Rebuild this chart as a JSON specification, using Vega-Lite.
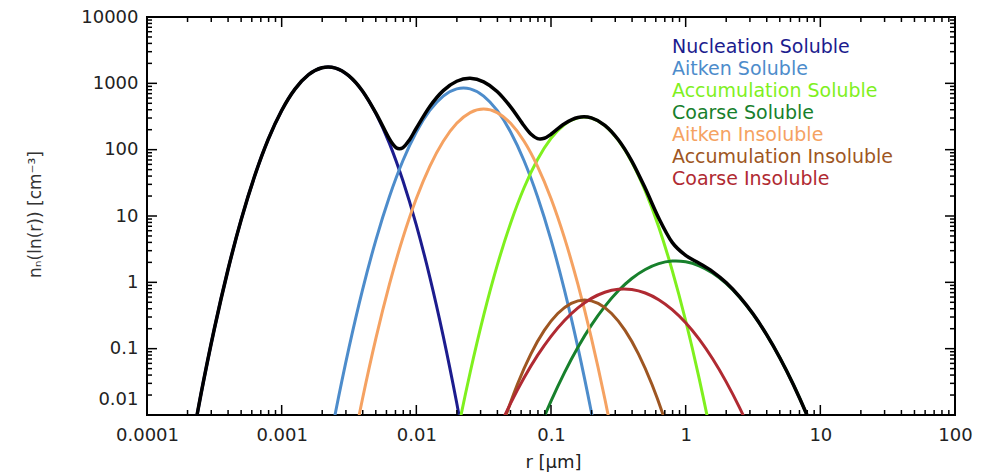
{
  "$schema": "https://vega.github.io/schema/vega-lite/v6.json",
  "width": 808,
  "height": 398,
  "autosize": {"type": "none"},
  "padding": {"left": 147, "top": 17, "right": 37, "bottom": 59},
  "background": "white",
  "config": {"view": {"stroke": "#000", "strokeWidth": 2}, "font": "DejaVu Sans"},
  "datasets": {
    "modes": [
      {"m":"Nucleation Soluble","r":0.0001995,"n":0.00161},{"m":"Nucleation Soluble","r":0.0002512,"n":0.0203},{"m":"Nucleation Soluble","r":0.0003162,"n":0.199},{"m":"Nucleation Soluble","r":0.0003981,"n":1.51},{"m":"Nucleation Soluble","r":0.0005012,"n":8.892},{"m":"Nucleation Soluble","r":0.000631,"n":40.46},{"m":"Nucleation Soluble","r":0.0007943,"n":142.9},{"m":"Nucleation Soluble","r":0.001,"n":389.9},{"m":"Nucleation Soluble","r":0.001259,"n":826},{"m":"Nucleation Soluble","r":0.001585,"n":1355},{"m":"Nucleation Soluble","r":0.001995,"n":1722},{"m":"Nucleation Soluble","r":0.002512,"n":1698},{"m":"Nucleation Soluble","r":0.003162,"n":1294},{"m":"Nucleation Soluble","r":0.003981,"n":765.6},{"m":"Nucleation Soluble","r":0.005012,"n":350.8},{"m":"Nucleation Soluble","r":0.00631,"n":124.5},{"m":"Nucleation Soluble","r":0.007943,"n":34.2},{"m":"Nucleation Soluble","r":0.01,"n":7.278},{"m":"Nucleation Soluble","r":0.01259,"n":1.202},{"m":"Nucleation Soluble","r":0.01585,"n":0.1535},{"m":"Nucleation Soluble","r":0.01995,"n":0.0152},{"m":"Nucleation Soluble","r":0.02512,"n":0.00117},
      {"m":"Aitken Soluble","r":0.001995,"n":0.000908},{"m":"Aitken Soluble","r":0.002512,"n":0.01099},{"m":"Aitken Soluble","r":0.003162,"n":0.1037},{"m":"Aitken Soluble","r":0.003981,"n":0.7638},{"m":"Aitken Soluble","r":0.005012,"n":4.375},{"m":"Aitken Soluble","r":0.00631,"n":19.54},{"m":"Aitken Soluble","r":0.007943,"n":68.08},{"m":"Aitken Soluble","r":0.01,"n":184.5},{"m":"Aitken Soluble","r":0.01259,"n":389.9},{"m":"Aitken Soluble","r":0.01585,"n":642.7},{"m":"Aitken Soluble","r":0.01995,"n":826},{"m":"Aitken Soluble","r":0.02512,"n":826},{"m":"Aitken Soluble","r":0.03162,"n":642.7},{"m":"Aitken Soluble","r":0.03981,"n":389.9},{"m":"Aitken Soluble","r":0.05012,"n":184.5},{"m":"Aitken Soluble","r":0.0631,"n":68.08},{"m":"Aitken Soluble","r":0.07943,"n":19.54},{"m":"Aitken Soluble","r":0.1,"n":4.375},{"m":"Aitken Soluble","r":0.1259,"n":0.7638},{"m":"Aitken Soluble","r":0.1585,"n":0.1037},{"m":"Aitken Soluble","r":0.1995,"n":0.01099},{"m":"Aitken Soluble","r":0.2512,"n":0.000908},
      {"m":"Accumulation Soluble","r":0.01585,"n":0.000405},{"m":"Accumulation Soluble","r":0.01995,"n":0.004786},{"m":"Accumulation Soluble","r":0.02512,"n":0.04406},{"m":"Accumulation Soluble","r":0.03162,"n":0.317},{"m":"Accumulation Soluble","r":0.03981,"n":1.782},{"m":"Accumulation Soluble","r":0.05012,"n":7.798},{"m":"Accumulation Soluble","r":0.0631,"n":26.67},{"m":"Accumulation Soluble","r":0.07943,"n":70.96},{"m":"Accumulation Soluble","r":0.1,"n":147.6},{"m":"Accumulation Soluble","r":0.1259,"n":239.9},{"m":"Accumulation Soluble","r":0.1585,"n":303.4},{"m":"Accumulation Soluble","r":0.1995,"n":299.9},{"m":"Accumulation Soluble","r":0.2512,"n":231.2},{"m":"Accumulation Soluble","r":0.3162,"n":139},{"m":"Accumulation Soluble","r":0.3981,"n":65.16},{"m":"Accumulation Soluble","r":0.5012,"n":23.82},{"m":"Accumulation Soluble","r":0.631,"n":6.808},{"m":"Accumulation Soluble","r":0.7943,"n":1.517},{"m":"Accumulation Soluble","r":1,"n":0.2636},{"m":"Accumulation Soluble","r":1.259,"n":0.03573},{"m":"Accumulation Soluble","r":1.585,"n":0.003776},{"m":"Accumulation Soluble","r":1.995,"n":0.000312},
      {"m":"Coarse Soluble","r":0.07943,"n":0.00537},{"m":"Coarse Soluble","r":0.1,"n":0.01618},{"m":"Coarse Soluble","r":0.1259,"n":0.04365},{"m":"Coarse Soluble","r":0.1585,"n":0.1052},{"m":"Coarse Soluble","r":0.1995,"n":0.2265},{"m":"Coarse Soluble","r":0.2512,"n":0.4345},{"m":"Coarse Soluble","r":0.3162,"n":0.7464},{"m":"Coarse Soluble","r":0.3981,"n":1.143},{"m":"Coarse Soluble","r":0.5012,"n":1.563},{"m":"Coarse Soluble","r":0.631,"n":1.914},{"m":"Coarse Soluble","r":0.7943,"n":2.089},{"m":"Coarse Soluble","r":1,"n":2.037},{"m":"Coarse Soluble","r":1.259,"n":1.774},{"m":"Coarse Soluble","r":1.585,"n":1.38},{"m":"Coarse Soluble","r":1.995,"n":0.9616},{"m":"Coarse Soluble","r":2.512,"n":0.5957},{"m":"Coarse Soluble","r":3.162,"n":0.3304},{"m":"Coarse Soluble","r":3.981,"n":0.1637},{"m":"Coarse Soluble","r":5.012,"n":0.07244},{"m":"Coarse Soluble","r":6.31,"n":0.02864},{"m":"Coarse Soluble","r":7.943,"n":0.01009},{"m":"Coarse Soluble","r":10,"n":0.003184},
      {"m":"Aitken Insoluble","r":0.003162,"n":0.001644},{"m":"Aitken Insoluble","r":0.003981,"n":0.01742},{"m":"Aitken Insoluble","r":0.005012,"n":0.1442},{"m":"Aitken Insoluble","r":0.00631,"n":0.929},{"m":"Aitken Insoluble","r":0.007943,"n":4.677},{"m":"Aitken Insoluble","r":0.01,"n":18.37},{"m":"Aitken Insoluble","r":0.01259,"n":56.1},{"m":"Aitken Insoluble","r":0.01585,"n":134},{"m":"Aitken Insoluble","r":0.01995,"n":249.5},{"m":"Aitken Insoluble","r":0.02512,"n":362.2},{"m":"Aitken Insoluble","r":0.03162,"n":410.2},{"m":"Aitken Insoluble","r":0.03981,"n":362.2},{"m":"Aitken Insoluble","r":0.05012,"n":249.5},{"m":"Aitken Insoluble","r":0.0631,"n":134},{"m":"Aitken Insoluble","r":0.07943,"n":56.1},{"m":"Aitken Insoluble","r":0.1,"n":18.37},{"m":"Aitken Insoluble","r":0.1259,"n":4.677},{"m":"Aitken Insoluble","r":0.1585,"n":0.929},{"m":"Aitken Insoluble","r":0.1995,"n":0.1442},{"m":"Aitken Insoluble","r":0.2512,"n":0.01742},{"m":"Aitken Insoluble","r":0.3162,"n":0.001644},
      {"m":"Accumulation Insoluble","r":0.03548,"n":0.001718},{"m":"Accumulation Insoluble","r":0.04467,"n":0.007907},{"m":"Accumulation Insoluble","r":0.05623,"n":0.02877},{"m":"Accumulation Insoluble","r":0.07079,"n":0.08279},{"m":"Accumulation Insoluble","r":0.08913,"n":0.1884},{"m":"Accumulation Insoluble","r":0.1122,"n":0.3388},{"m":"Accumulation Insoluble","r":0.1413,"n":0.4819},{"m":"Accumulation Insoluble","r":0.1778,"n":0.542},{"m":"Accumulation Insoluble","r":0.2239,"n":0.4819},{"m":"Accumulation Insoluble","r":0.2818,"n":0.3388},{"m":"Accumulation Insoluble","r":0.3548,"n":0.1884},{"m":"Accumulation Insoluble","r":0.4467,"n":0.08279},{"m":"Accumulation Insoluble","r":0.5623,"n":0.02877},{"m":"Accumulation Insoluble","r":0.7079,"n":0.007907},{"m":"Accumulation Insoluble","r":0.8913,"n":0.001718},
      {"m":"Coarse Insoluble","r":0.03162,"n":0.001816},{"m":"Coarse Insoluble","r":0.03981,"n":0.005521},{"m":"Coarse Insoluble","r":0.05012,"n":0.015},{"m":"Coarse Insoluble","r":0.0631,"n":0.03639},{"m":"Coarse Insoluble","r":0.07943,"n":0.07907},{"m":"Coarse Insoluble","r":0.1,"n":0.1535},{"m":"Coarse Insoluble","r":0.1259,"n":0.2661},{"m":"Coarse Insoluble","r":0.1585,"n":0.4121},{"m":"Coarse Insoluble","r":0.1995,"n":0.5728},{"m":"Coarse Insoluble","r":0.2512,"n":0.7096},{"m":"Coarse Insoluble","r":0.3162,"n":0.787},{"m":"Coarse Insoluble","r":0.3981,"n":0.7798},{"m":"Coarse Insoluble","r":0.5012,"n":0.6902},{"m":"Coarse Insoluble","r":0.631,"n":0.547},{"m":"Coarse Insoluble","r":0.7943,"n":0.3873},{"m":"Coarse Insoluble","r":1,"n":0.2455},{"m":"Coarse Insoluble","r":1.259,"n":0.139},{"m":"Coarse Insoluble","r":1.585,"n":0.07031},{"m":"Coarse Insoluble","r":1.995,"n":0.03184},{"m":"Coarse Insoluble","r":2.512,"n":0.01288},{"m":"Coarse Insoluble","r":3.162,"n":0.004656},{"m":"Coarse Insoluble","r":3.981,"n":0.001507}
    ],
    "total": [
      {"r":0.0001995,"n":0.00161},{"r":0.0002512,"n":0.0203},{"r":0.0003162,"n":0.199},{"r":0.0003981,"n":1.51},{"r":0.0005012,"n":8.892},{"r":0.000631,"n":40.46},{"r":0.0007943,"n":142.9},{"r":0.001,"n":389.9},{"r":0.001259,"n":826},{"r":0.001585,"n":1355},{"r":0.001995,"n":1722},{"r":0.002512,"n":1698},{"r":0.003162,"n":1294},{"r":0.003981,"n":766.4},{"r":0.005012,"n":355.3},{"r":0.00631,"n":145},{"r":0.007079,"n":107.2},{"r":0.007943,"n":107},{"r":0.008913,"n":141.5},{"r":0.01,"n":210.2},{"r":0.01259,"n":447.3},{"r":0.01585,"n":776.9},{"r":0.01995,"n":1075.5},{"r":0.02512,"n":1188.2},{"r":0.03162,"n":1053.2},{"r":0.03981,"n":754},{"r":0.05012,"n":441.8},{"r":0.0631,"n":228.9},{"r":0.07079,"n":172.3},{"r":0.07943,"n":146.9},{"r":0.08913,"n":148.7},{"r":0.1,"n":170.8},{"r":0.1259,"n":246.1},{"r":0.1585,"n":305.5},{"r":0.1995,"n":301.4},{"r":0.2512,"n":232.8},{"r":0.3162,"n":140.8},{"r":0.3981,"n":67.25},{"r":0.5012,"n":26.1},{"r":0.631,"n":9.29},{"r":0.7943,"n":4.0},{"r":1,"n":2.549},{"r":1.259,"n":1.945},{"r":1.585,"n":1.454},{"r":1.995,"n":0.994},{"r":2.512,"n":0.609},{"r":3.162,"n":0.335},{"r":3.981,"n":0.164},{"r":5.012,"n":0.0724},{"r":6.31,"n":0.0286},{"r":7.943,"n":0.01009},{"r":10,"n":0.00318}
    ],
    "xticks": [
      {"v":0.0001,"major":1},{"v":0.0002,"major":0},{"v":0.0003,"major":0},{"v":0.0004,"major":0},{"v":0.0005,"major":0},{"v":0.0006,"major":0},{"v":0.0007,"major":0},{"v":0.0008,"major":0},{"v":0.0009,"major":0},
      {"v":0.001,"major":1},{"v":0.002,"major":0},{"v":0.003,"major":0},{"v":0.004,"major":0},{"v":0.005,"major":0},{"v":0.006,"major":0},{"v":0.007,"major":0},{"v":0.008,"major":0},{"v":0.009,"major":0},
      {"v":0.01,"major":1},{"v":0.02,"major":0},{"v":0.03,"major":0},{"v":0.04,"major":0},{"v":0.05,"major":0},{"v":0.06,"major":0},{"v":0.07,"major":0},{"v":0.08,"major":0},{"v":0.09,"major":0},
      {"v":0.1,"major":1},{"v":0.2,"major":0},{"v":0.3,"major":0},{"v":0.4,"major":0},{"v":0.5,"major":0},{"v":0.6,"major":0},{"v":0.7,"major":0},{"v":0.8,"major":0},{"v":0.9,"major":0},
      {"v":1,"major":1},{"v":2,"major":0},{"v":3,"major":0},{"v":4,"major":0},{"v":5,"major":0},{"v":6,"major":0},{"v":7,"major":0},{"v":8,"major":0},{"v":9,"major":0},
      {"v":10,"major":1},{"v":20,"major":0},{"v":30,"major":0},{"v":40,"major":0},{"v":50,"major":0},{"v":60,"major":0},{"v":70,"major":0},{"v":80,"major":0},{"v":90,"major":0},
      {"v":100,"major":1}
    ],
    "yticks": [
      {"v":0.01,"major":1},{"v":0.02,"major":0},{"v":0.03,"major":0},{"v":0.04,"major":0},{"v":0.05,"major":0},{"v":0.06,"major":0},{"v":0.07,"major":0},{"v":0.08,"major":0},{"v":0.09,"major":0},
      {"v":0.1,"major":1},{"v":0.2,"major":0},{"v":0.3,"major":0},{"v":0.4,"major":0},{"v":0.5,"major":0},{"v":0.6,"major":0},{"v":0.7,"major":0},{"v":0.8,"major":0},{"v":0.9,"major":0},
      {"v":1,"major":1},{"v":2,"major":0},{"v":3,"major":0},{"v":4,"major":0},{"v":5,"major":0},{"v":6,"major":0},{"v":7,"major":0},{"v":8,"major":0},{"v":9,"major":0},
      {"v":10,"major":1},{"v":20,"major":0},{"v":30,"major":0},{"v":40,"major":0},{"v":50,"major":0},{"v":60,"major":0},{"v":70,"major":0},{"v":80,"major":0},{"v":90,"major":0},
      {"v":100,"major":1},{"v":200,"major":0},{"v":300,"major":0},{"v":400,"major":0},{"v":500,"major":0},{"v":600,"major":0},{"v":700,"major":0},{"v":800,"major":0},{"v":900,"major":0},
      {"v":1000,"major":1},{"v":2000,"major":0},{"v":3000,"major":0},{"v":4000,"major":0},{"v":5000,"major":0},{"v":6000,"major":0},{"v":7000,"major":0},{"v":8000,"major":0},{"v":9000,"major":0},
      {"v":10000,"major":1}
    ]
  },
  "layer": [
    {
      "data": {"name": "modes"},
      "mark": {"type": "line", "clip": true, "strokeWidth": 3, "interpolate": "cardinal"},
      "encoding": {
        "x": {
          "field": "r", "type": "quantitative",
          "scale": {"type": "log", "domain": [0.0001, 100], "nice": false},
          "axis": {
            "orient": "bottom", "ticks": false, "tickSize": 0, "domain": false, "grid": false,
            "values": [0.0001,0.001,0.01,0.1,1,10,100],
            "format": "~g",
            "labelOverlap": false, "labelFlush": false,
            "labelFont": "DejaVu Sans", "labelFontSize": 18, "labelColor": "#222", "labelPadding": 11,
            "title": "r [μm]", "titleFont": "DejaVu Sans", "titleFontSize": 18, "titleFontWeight": "normal", "titleColor": "#222",
            "titleX": 406, "titleY": 47, "titleBaseline": "middle", "titleAlign": "center"
          }
        },
        "y": {
          "field": "n", "type": "quantitative",
          "scale": {"type": "log", "domain": [0.01, 10000], "nice": false},
          "axis": {
            "orient": "left", "ticks": false, "tickSize": 0, "domain": false, "grid": false,
            "values": [0.01,0.1,1,10,100,1000,10000],
            "format": "~g",
            "labelOffset": {"condition": {"test": "datum.value < 0.011", "value": -16}, "value": 0},
            "labelOverlap": false, "labelFlush": false,
            "labelFont": "DejaVu Sans", "labelFontSize": 18, "labelColor": "#222", "labelPadding": 9,
            "title": "nₙ(ln(r)) [cm⁻³]", "titleFont": "DejaVu Sans", "titleFontSize": 17, "titleFontWeight": "normal", "titleColor": "#333",
            "titleX": -112, "titleY": 197, "titleAngle": -90, "titleBaseline": "middle", "titleAlign": "center"
          }
        },
        "color": {
          "field": "m", "type": "nominal",
          "scale": {
            "domain": ["Nucleation Soluble","Aitken Soluble","Accumulation Soluble","Coarse Soluble","Aitken Insoluble","Accumulation Insoluble","Coarse Insoluble"],
            "range": ["#1c1c8e","#4d8ccb","#7ff01e","#17802c","#f5a262","#9e5622","#b02a32"]
          },
          "legend": {
            "orient": "none", "legendX": 506, "legendY": 20, "title": null,
            "symbolOpacity": 0, "symbolSize": 0, "symbolStrokeWidth": 0, "labelOffset": 0,
            "labelFont": "DejaVu Sans", "labelFontSize": 19, "labelLimit": 400, "rowPadding": 2, "padding": 0,
            "encode": {"labels": {"update": {"fill": {"scale": "color", "field": "value"}}}}
          }
        }
      }
    },
    {
      "data": {"name": "total"},
      "mark": {"type": "line", "clip": true, "strokeWidth": 3.5, "color": "#000", "interpolate": "cardinal"},
      "encoding": {
        "x": {"field": "r", "type": "quantitative", "scale": {"type": "log", "domain": [0.0001, 100], "nice": false}},
        "y": {"field": "n", "type": "quantitative", "scale": {"type": "log", "domain": [0.01, 10000], "nice": false}}
      }
    },
    {
      "data": {"name": "xticks"},
      "mark": {"type": "tick", "orient": "vertical", "clip": true, "color": "#000", "opacity": 1, "thickness": 1.5},
      "encoding": {
        "x": {"field": "v", "type": "quantitative", "scale": {"type": "log", "domain": [0.0001, 100], "nice": false}},
        "y": {"datum": 0.01, "type": "quantitative", "scale": {"type": "log", "domain": [0.01, 10000], "nice": false}},
        "size": {"condition": {"test": "datum.major == 1", "value": 20}, "value": 10}
      }
    },
    {
      "data": {"name": "xticks"},
      "mark": {"type": "tick", "orient": "vertical", "clip": true, "color": "#000", "opacity": 1, "thickness": 1.5},
      "encoding": {
        "x": {"field": "v", "type": "quantitative", "scale": {"type": "log", "domain": [0.0001, 100], "nice": false}},
        "y": {"datum": 10000, "type": "quantitative", "scale": {"type": "log", "domain": [0.01, 10000], "nice": false}},
        "size": {"condition": {"test": "datum.major == 1", "value": 20}, "value": 10}
      }
    },
    {
      "data": {"name": "yticks"},
      "mark": {"type": "tick", "orient": "horizontal", "clip": true, "color": "#000", "opacity": 1, "thickness": 1.5},
      "encoding": {
        "y": {"field": "v", "type": "quantitative", "scale": {"type": "log", "domain": [0.01, 10000], "nice": false}},
        "x": {"datum": 0.0001, "type": "quantitative", "scale": {"type": "log", "domain": [0.0001, 100], "nice": false}},
        "size": {"condition": {"test": "datum.major == 1", "value": 20}, "value": 10}
      }
    },
    {
      "data": {"name": "yticks"},
      "mark": {"type": "tick", "orient": "horizontal", "clip": true, "color": "#000", "opacity": 1, "thickness": 1.5},
      "encoding": {
        "y": {"field": "v", "type": "quantitative", "scale": {"type": "log", "domain": [0.01, 10000], "nice": false}},
        "x": {"datum": 100, "type": "quantitative", "scale": {"type": "log", "domain": [0.0001, 100], "nice": false}},
        "size": {"condition": {"test": "datum.major == 1", "value": 20}, "value": 10}
      }
    }
  ]
}
